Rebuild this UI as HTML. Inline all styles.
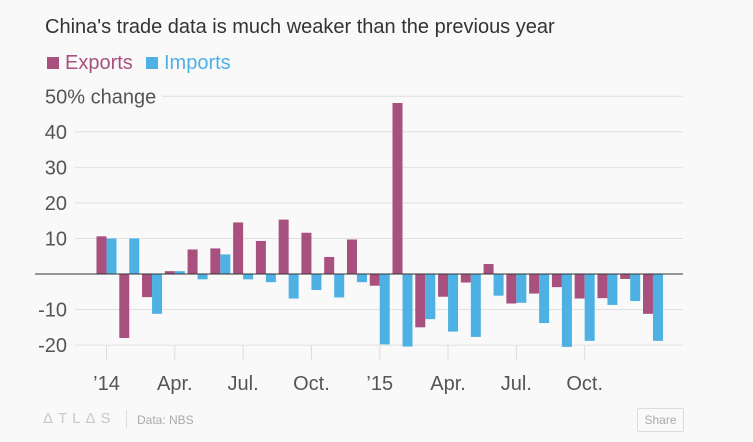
<!DOCTYPE html>
<html><head><meta charset="utf-8"><style>
body{margin:0;background:#f9f9f9;font-family:"Liberation Sans",sans-serif;}
#wrap{position:relative;width:753px;height:442px;overflow:hidden;background:#f9f9f9;}
.t{position:absolute;white-space:nowrap;}
</style></head><body>
<div id="wrap">
<div class="t" style="left:45px;top:16px;font-size:20px;color:#333;">China's trade data is much weaker than the previous year</div>
<div class="t" style="left:47px;top:52px;font-size:20px;color:#a8517f;"><span style="display:inline-block;width:12px;height:12px;background:#a8517f;margin-right:6px;"></span>Exports</div>
<div class="t" style="left:146px;top:52px;font-size:20px;color:#4eb1e4;"><span style="display:inline-block;width:12px;height:12px;background:#4eb1e4;margin-right:6px;"></span>Imports</div>
<svg id="chart" width="753" height="442" style="position:absolute;left:0;top:0;"></svg>
<div class="t" style="left:43px;top:410px;font-size:15px;color:#c8c8c8;letter-spacing:5px;">ΔTLΔS</div>
<div style="position:absolute;left:126px;top:410px;width:1px;height:18px;background:#ddd;"></div>
<div class="t" style="left:137px;top:413px;font-size:12px;color:#aaa;">Data: NBS</div>
<div class="t" style="left:637px;top:408px;width:45px;height:22px;border:1px solid #ddd;border-radius:2px;font-size:12px;color:#aaa;text-align:center;line-height:22px;">Share</div>
</div>
<script>
const months=["Jan14","Feb14","Mar14","Apr14","May14","Jun14","Jul14","Aug14","Sep14","Oct14","Nov14","Dec14","Jan15","Feb15","Mar15","Apr15","May15","Jun15","Jul15","Aug15","Sep15","Oct15","Nov15","Dec15","Jan16"];
const exportsData=[10.6,-18.0,-6.5,0.8,6.9,7.2,14.5,9.3,15.3,11.6,4.8,9.7,-3.3,48.1,-15.0,-6.4,-2.4,2.8,-8.3,-5.5,-3.7,-6.9,-6.8,-1.4,-11.2];
const importsData=[10.0,10.0,-11.2,0.8,-1.5,5.5,-1.5,-2.3,-6.9,-4.5,-6.6,-2.3,-19.8,-20.4,-12.7,-16.2,-17.7,-6.1,-8.1,-13.8,-20.5,-18.8,-8.7,-7.6,-18.8];
const yTicks=[-20,-10,0,10,20,30,40,50];
const xTickIdx=[0,3,6,9,12,15,18,21];
const xTickLabels=["’14","Apr.","Jul.","Oct.","’15","Apr.","Jul.","Oct."];
const svg=document.getElementById('chart');const NS="http://www.w3.org/2000/svg";
const y=v=>274-v*3.555;
const x=i=>106.5+i*22.77;
function mk(t,a){const e=document.createElementNS(NS,t);for(const k in a)e.setAttribute(k,a[k]);svg.appendChild(e);return e;}
yTicks.forEach(v=>{
 if(v===0)return;
 const g=mk('line',{x1:v===50?162:75,x2:683,y1:y(v),y2:y(v),stroke:'#e0e0e0','stroke-width':1});
 
 
 const t=v===50?mk('text',{x:45,y:y(v)+7,'font-size':20,fill:'#555','font-family':'Liberation Sans, sans-serif'})
   :mk('text',{x:67,y:y(v)+7,'font-size':20,fill:'#555','text-anchor':'end','font-family':'Liberation Sans, sans-serif'});
 t.textContent=v===50?'50% change':String(v);
 
 
});
xTickIdx.forEach((m,k)=>{
 const l=mk('line',{x1:x(m),x2:x(m),y1:y(-20),y2:y(-20)+15,stroke:'#ddd'});
 
 
 const t=mk('text',{x:x(m),y:390,'font-size':20,fill:'#555','text-anchor':'middle','font-family':'Liberation Sans, sans-serif'});
 t.textContent=xTickLabels[k];
 
 
});
months.forEach((m,i)=>{
 const e=exportsData[i],im=importsData[i];
 const b1=mk('rect',{x:x(i)-10,y:Math.min(y(e),y(0)),width:10,height:Math.abs(y(e)-y(0)),fill:'#a8517f'});
 
 
 const b2=mk('rect',{x:x(i),y:Math.min(y(im),y(0)),width:10,height:Math.abs(y(im)-y(0)),fill:'#4eb1e4'});
 
 
});
const z=mk('line',{x1:35,x2:683,y1:y(0),y2:y(0),stroke:'#333','stroke-width':1});


</script>
</body></html>
